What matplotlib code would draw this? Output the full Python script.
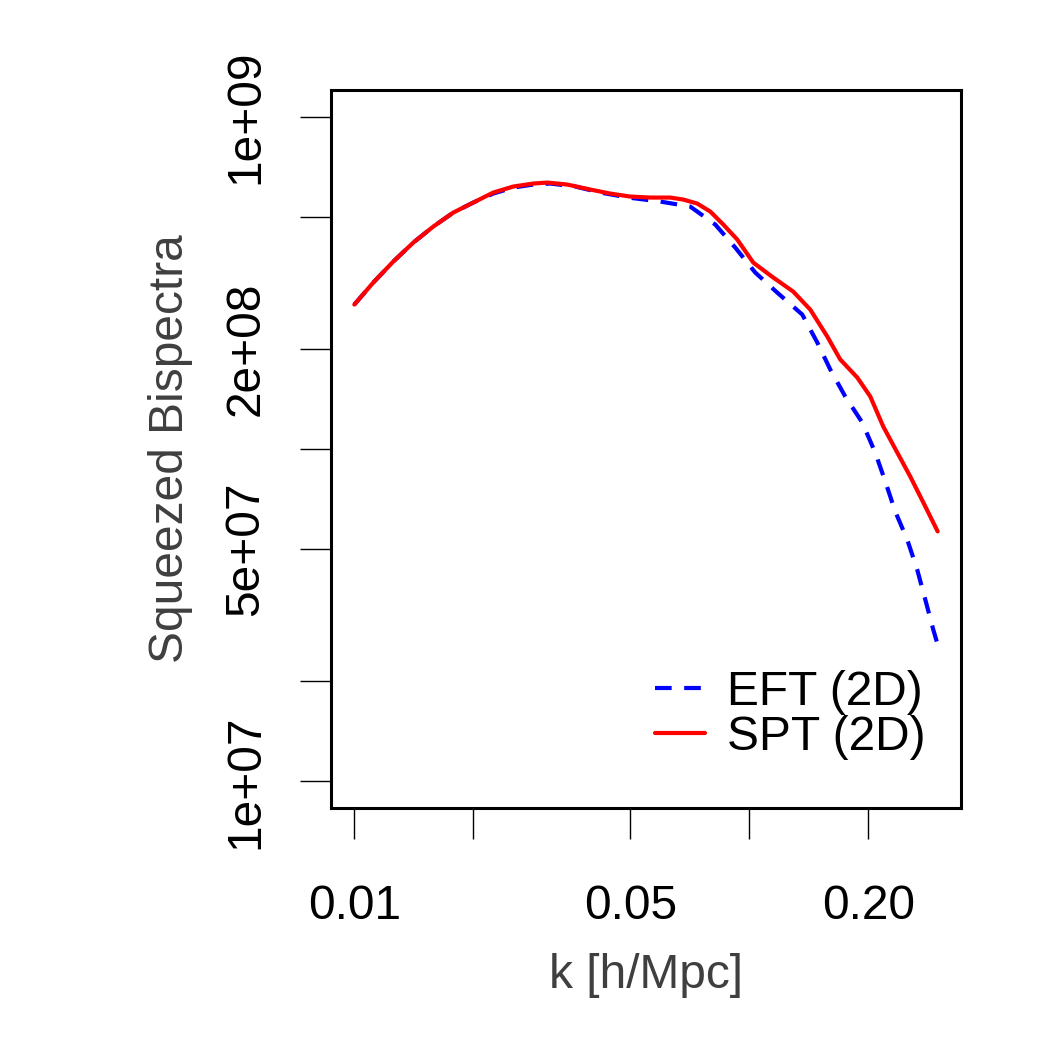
import numpy as np
import matplotlib
matplotlib.use("Agg")
import matplotlib.pyplot as plt

plt.rcParams['font.family'] = ['Liberation Sans', 'DejaVu Sans']

# ---- data ----
k_spt = [0.01000, 0.01117, 0.01255, 0.01411, 0.01585, 0.01781, 0.02001, 0.02248,
         0.02526, 0.02839, 0.03081, 0.03462, 0.03958, 0.04447, 0.04997, 0.05615,
         0.06310, 0.06806, 0.07386, 0.07967, 0.08596, 0.09325, 0.10235, 0.1150,
         0.1292, 0.1427, 0.1576, 0.1700, 0.1877, 0.2025, 0.2184, 0.2370, 0.2556,
         0.2758, 0.3000]
spt = [2.72e8, 3.168e8, 3.664e8, 4.180e8, 4.669e8, 5.144e8, 5.513e8, 5.908e8,
       6.160e8, 6.289e8, 6.332e8, 6.245e8, 6.033e8, 5.867e8, 5.747e8, 5.707e8,
       5.707e8, 5.629e8, 5.474e8, 5.180e8, 4.734e8, 4.267e8, 3.638e8, 3.280e8,
       2.976e8, 2.627e8, 2.180e8, 1.859e8, 1.641e8, 1.439e8, 1.169e8, 9.76e7, 8.27e7,
       6.91e7, 5.65e7]

k_eft = [0.01000, 0.01117, 0.01255, 0.01411, 0.01585, 0.01781, 0.02001, 0.02248,
         0.02526, 0.02839, 0.03135, 0.03626, 0.04196, 0.04940, 0.05953, 0.07089,
         0.08203, 0.09216, 0.10356, 0.1177, 0.1362, 0.1487, 0.1604, 0.1750, 0.1932,
         0.2084, 0.2210, 0.2342, 0.2512, 0.2662, 0.2790, 0.2923, 0.3000]
eft = [2.72e8, 3.168e8, 3.664e8, 4.180e8, 4.669e8, 5.144e8, 5.513e8, 5.867e8,
       6.117e8, 6.245e8, 6.289e8, 6.160e8, 5.908e8, 5.707e8, 5.551e8, 5.362e8,
       4.734e8, 4.036e8, 3.395e8, 2.955e8, 2.538e8, 2.091e8, 1.734e8, 1.439e8,
       1.202e8, 9.76e7, 7.99e7, 6.49e7, 5.34e7, 4.34e7, 3.53e7, 2.865e7, 2.58e7]

xticks = [0.01, 0.02, 0.05, 0.10, 0.20]
xticklabels = ['0.01', '', '0.05', '', '0.20']
yticks = [1e7, 2e7, 5e7, 1e8, 2e8, 5e8, 1e9]
yticklabels = ['1e+07', '', '5e+07', '', '2e+08', '', '1e+09']
ylim_data = [1e7, 1e9]

FS = 34.5
LABCOL = '#3f3f3f'

fig = plt.figure(figsize=(10.5, 10.5), dpi=100)
ax = fig.add_axes([331/1050, 1 - 808/1050, 630/1050, 718/1050])

ax.plot(k_eft, eft, color='blue', lw=3, linestyle=(0, (4, 3)), label='EFT (2D)',
        solid_joinstyle='round', dash_joinstyle='round')
ax.plot(k_spt, spt, color='red', lw=3, label='SPT (2D)',
        solid_joinstyle='round', solid_capstyle='round')

ax.set_xscale('log')
ax.set_yscale('log')

# R-style 4% axis extension
allk = k_spt + k_eft
lx0, lx1 = np.log10(min(allk)), np.log10(max(allk))
dx = 0.04 * (lx1 - lx0)
ax.set_xlim(10 ** (lx0 - dx), 10 ** (lx1 + dx))
ly0, ly1 = np.log10(ylim_data[0]), np.log10(ylim_data[1])
dy = 0.04 * (ly1 - ly0)
ax.set_ylim(10 ** (ly0 - dy), 10 ** (ly1 + dy))

ax.xaxis.set_major_locator(matplotlib.ticker.FixedLocator(xticks))
ax.xaxis.set_major_formatter(matplotlib.ticker.FixedFormatter(xticklabels))
ax.xaxis.set_minor_locator(matplotlib.ticker.NullLocator())
ax.yaxis.set_major_locator(matplotlib.ticker.FixedLocator(yticks))
ax.yaxis.set_major_formatter(matplotlib.ticker.FixedFormatter(yticklabels))
ax.yaxis.set_minor_locator(matplotlib.ticker.NullLocator())

ax.tick_params(axis='both', direction='out', length=22, width=1.0, colors='black',
               labelsize=FS)
ax.tick_params(axis='x', pad=33)
ax.tick_params(axis='y', pad=23)
for lab in ax.get_yticklabels():
    lab.set_rotation(90)
    lab.set_va('center')
    lab.set_ha('right')

for s in ax.spines.values():
    s.set_linewidth(2.2)
    s.set_color('black')

ax.set_xlabel('k [h/Mpc]', fontsize=FS, color=LABCOL, labelpad=17)
ax.set_ylabel('Squeezed Bispectra', fontsize=FS, color=LABCOL, labelpad=22)

leg = ax.legend(loc='lower right', frameon=False, fontsize=FS, handlelength=1.05,
                handletextpad=0.45, labelspacing=0.0, borderaxespad=0.0,
                bbox_to_anchor=(0.974, 0.040))

fig.savefig('out.png', dpi=100, facecolor='white')
